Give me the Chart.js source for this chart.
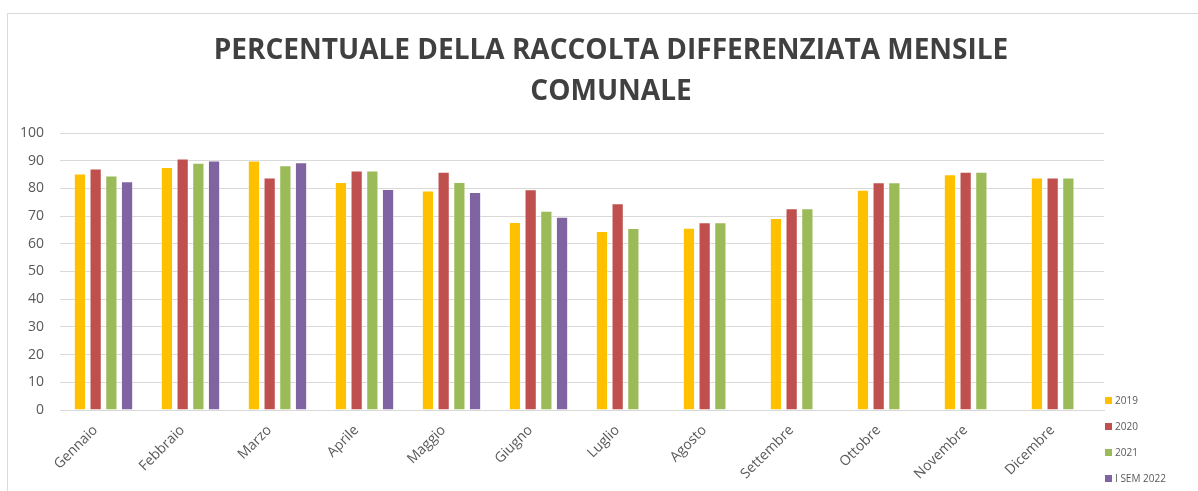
<!DOCTYPE html>
<html>
<head>
<meta charset="utf-8">
<script src="https://cdn.jsdelivr.net/npm/chart.js@4.4.0/dist/chart.umd.min.js"></script>
<style>
    html, body { margin: 0; padding: 0; background: #fff; overflow: hidden; }
    #frame { position: absolute; left: 7px; top: 13px; width: 1206px; height: 490px; border: 1px solid #d9d9d9; }
    #chart { display: block; }
    #legend { position: absolute; left: 1105px; top: 0; font-family: 'Open Sans', sans-serif; font-size: 10px; color: #595959; }
    .item { position: absolute; left: 0; height: 12px; line-height: 12px; white-space: nowrap; }
    .box { display: inline-block; width: 7px; height: 7px; margin-right: 3px; vertical-align: 0px; }
</style>
</head>
<body>
<div id="frame"><canvas id="chart" width="1206" height="476"></canvas></div>
<div id="legend"></div>
<script>
// --- DATI ---
const mesi = ['Gennaio', 'Febbraio', 'Marzo', 'Aprile', 'Maggio', 'Giugno', 'Luglio', 'Agosto', 'Settembre', 'Ottobre', 'Novembre', 'Dicembre'];
const serie = ['2019', '2020', '2021', 'I SEM 2022'];
const val2019 = [85.4, 87.7, 90.1, 82.3, 79.2, 67.9, 64.6, 65.8, 69.3, 79.5, 85.1, 83.9];
const val2020 = [87.2, 90.8, 83.9, 86.5, 86.0, 79.7, 74.6, 67.8, 72.8, 82.2, 86.0, 83.9];
const val2021 = [84.7, 89.3, 88.4, 86.5, 82.3, 71.9, 65.7, 67.8, 72.8, 82.2, 86.0, 83.9];
const valSem2022 = [82.6, 90.1, 89.4, 79.8, 78.7, 69.8, null, null, null, null, null, null];
const colori = ['#FFC000', '#C0504D', '#9BBB59', '#8064A2'];
const titolo = ['PERCENTUALE DELLA RACCOLTA DIFFERENZIATA MENSILE', 'COMUNALE'];

Chart.defaults.font.family = "'Open Sans', sans-serif";
Chart.defaults.color = '#595959';

const valori = [val2019, val2020, val2021, valSem2022];
const datasets = serie.map((nome, i) => ({
    label: nome,
    data: valori[i],
    backgroundColor: colori[i],
    borderColor: 'rgba(255,255,255,0.45)',
    borderWidth: 1,
    categoryPercentage: 0.722,
    barPercentage: 0.78,
}));

new Chart(document.getElementById('chart'), {
    type: 'bar',
    data: { labels: mesi, datasets },
    options: {
        responsive: false,
        animation: false,
        layout: { padding: 0 },
        plugins: {
            legend: { display: false },
            tooltip: { enabled: false },
            title: {
                display: true,
                text: titolo,
                color: '#404040',
                font: { size: 28, weight: 'bold', lineHeight: 41 / 28 },
                padding: { top: 17, bottom: 20 },
            },
        },
        scales: {
            x: {
                grid: { display: false },
                border: { color: '#d9d9d9' },
                ticks: { font: { size: 14 }, maxRotation: 45, minRotation: 45, padding: 4, labelOffset: -8 },
                afterFit: s => { s.height = 80; },
            },
            y: {
                min: 0, max: 100,
                grid: { color: '#d9d9d9', drawTicks: false },
                border: { display: false },
                ticks: { stepSize: 10, font: { size: 14 }, padding: 16 },
                afterFit: s => { s.width = 52; },
            },
            spazio: {
                position: 'right',
                display: true,
                grid: { display: false },
                border: { display: false },
                ticks: { display: false },
                afterFit: s => { s.width = 110; },
            },
        },
    },
});

// legenda
const legenda = document.getElementById('legend');
serie.forEach((nome, i) => {
    const el = document.createElement('div');
    el.className = 'item';
    el.style.top = (394 + 26 * i) + 'px';
    el.innerHTML = `<span class="box" style="background:${colori[i]}"></span>${nome}`;
    legenda.appendChild(el);
});
</script>
</body>
</html>
